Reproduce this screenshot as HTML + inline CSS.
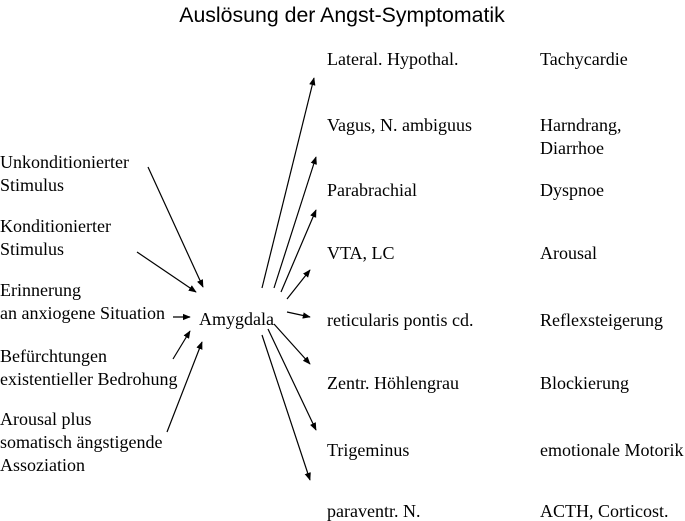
<!DOCTYPE html>
<html><head><meta charset="utf-8"><style>
html,body{margin:0;padding:0;background:#fff;}
svg{display:block;}
text{font-family:"Liberation Serif",serif;font-size:18px;fill:#000;}
.t{font-family:"Liberation Sans",sans-serif;font-size:21.3px;}
line{stroke:#000;stroke-width:1.2;marker-end:url(#a);}
</style></head><body>
<svg width="685" height="521" viewBox="0 0 685 521">
<defs><marker id="a" viewBox="0 0 10 10" refX="9" refY="5" markerWidth="8" markerHeight="8" markerUnits="userSpaceOnUse" orient="auto"><path d="M0,1 L10,5 L0,9 z" fill="#000"/></marker></defs>
<text class="t" x="342" y="22" text-anchor="middle">Auslösung der Angst-Symptomatik</text>
<text x="0" y="168">Unkonditionierter</text>
<text x="0" y="191">Stimulus</text>
<text x="0" y="232">Konditionierter</text>
<text x="0" y="255">Stimulus</text>
<text x="0" y="296">Erinnerung</text>
<text x="0" y="319">an anxiogene Situation</text>
<text x="0" y="362">Befürchtungen</text>
<text x="0" y="385">existentieller Bedrohung</text>
<text x="0" y="425">Arousal plus</text>
<text x="0" y="448">somatisch ängstigende</text>
<text x="0" y="471">Assoziation</text>
<text x="199" y="325">Amygdala</text>
<text x="327" y="65">Lateral. Hypothal.</text>
<text x="327" y="131">Vagus, N. ambiguus</text>
<text x="327" y="196">Parabrachial</text>
<text x="327" y="259">VTA, LC</text>
<text x="327" y="326">reticularis pontis cd.</text>
<text x="327" y="389">Zentr. Höhlengrau</text>
<text x="327" y="456">Trigeminus</text>
<text x="327" y="517">paraventr. N.</text>
<text x="540" y="65">Tachycardie</text>
<text x="540" y="131">Harndrang,</text>
<text x="540" y="154">Diarrhoe</text>
<text x="540" y="196">Dyspnoe</text>
<text x="540" y="259">Arousal</text>
<text x="540" y="326">Reflexsteigerung</text>
<text x="540" y="389">Blockierung</text>
<text x="540" y="456">emotionale Motorik</text>
<text x="540" y="517">ACTH, Corticost.</text>
<line x1="148" y1="167" x2="203" y2="287"/>
<line x1="137" y1="252" x2="196" y2="292"/>
<line x1="173" y1="317" x2="190" y2="317"/>
<line x1="173" y1="359" x2="190" y2="331"/>
<line x1="167" y1="432" x2="202" y2="342"/>
<line x1="262" y1="288" x2="314" y2="78"/>
<line x1="274" y1="288" x2="316" y2="157"/>
<line x1="281" y1="292" x2="316" y2="210"/>
<line x1="287" y1="299" x2="310" y2="270"/>
<line x1="287" y1="312" x2="310" y2="317"/>
<line x1="274" y1="324" x2="310" y2="364"/>
<line x1="268" y1="329" x2="316" y2="430"/>
<line x1="262" y1="335" x2="310" y2="480"/>
</svg>
</body></html>
